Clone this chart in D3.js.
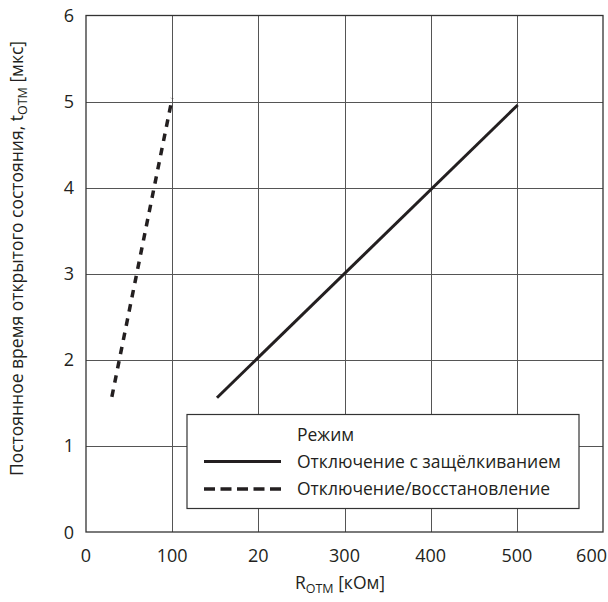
<!DOCTYPE html>
<html>
<head>
<meta charset="utf-8">
<script src="https://cdn.jsdelivr.net/npm/d3@7"></script>
<style>
  body { margin: 0; background: #fff; }
  svg text { font-family: "Open Sans", sans-serif; fill: #231f20; }
</style>
</head>
<body>
<div id="chart"></div>
<script>
// Data
const xTicks = [0, 100, 200, 300, 400, 500, 600];
const xTickLabels = ["0", "100", "20", "300", "400", "500", "600"]; // "20" as printed in the original
const yTicks = [0, 1, 2, 3, 4, 5, 6];
const latchR = [152, 501];
const latchT = [1.56, 4.96];
const restoreR = [30, 100];
const restoreT = [1.57, 5.04];
const legendTitle = "Режим";
const seriesNames = ["Отключение с защёлкиванием", "Отключение/восстановление"];

const width = 608;
const height = 602;
const marginTop = 15.5;
const marginRight = 5;
const marginBottom = 70;
const marginLeft = 86;

const svg = d3.create("svg")
    .attr("width", width)
    .attr("height", height);

const x = d3.scaleLinear()
    .domain([0, 600])
    .range([marginLeft, width - marginRight]);

const y = d3.scaleLinear()
    .domain([0, 6])
    .range([height - marginBottom, marginTop]);

// grid
svg.append("g")
    .selectAll("line")
    .data(xTicks.slice(1, -1))
    .join("line")
    .attr("x1", d => Math.round(x(d)) + 0.5)
    .attr("x2", d => Math.round(x(d)) + 0.5)
    .attr("y1", y(0))
    .attr("y2", y(6))
    .attr("stroke", "#555")
    .attr("stroke-width", 1);

svg.append("g")
    .selectAll("line")
    .data(yTicks.slice(1, -1))
    .join("line")
    .attr("x1", x(0))
    .attr("x2", x(600))
    .attr("y1", d => Math.round(y(d)) + 0.5)
    .attr("y2", d => Math.round(y(d)) + 0.5)
    .attr("stroke", "#555")
    .attr("stroke-width", 1);

// frame
svg.append("rect")
    .attr("x", x(0))
    .attr("y", y(6))
    .attr("width", x(600) - x(0))
    .attr("height", y(0) - y(6))
    .attr("fill", "none")
    .attr("stroke", "#333")
    .attr("stroke-width", 1.3);

// tick labels (last one kept inside the window)
svg.append("g")
    .selectAll("text")
    .data(xTicks)
    .join("text")
    .attr("x", (d, i) => i === xTicks.length - 1 ? width - 1 : x(d))
    .attr("y", y(0) + 30)
    .attr("text-anchor", (d, i) => i === xTicks.length - 1 ? "end" : "middle")
    .attr("font-size", 18)
    .text((d, i) => xTickLabels[i]);

svg.append("g")
    .selectAll("text")
    .data(yTicks)
    .join("text")
    .attr("x", x(0) - 12)
    .attr("y", d => y(d) + 6.5)
    .attr("text-anchor", "end")
    .attr("font-size", 18)
    .text(d => d);

// lines
const line = d3.line()
    .x(d => x(d[0]))
    .y(d => y(d[1]));

svg.append("path")
    .attr("d", line(d3.zip(latchR, latchT)))
    .attr("fill", "none")
    .attr("stroke", "#231f20")
    .attr("stroke-width", 3);

svg.append("path")
    .attr("d", line(d3.zip(restoreR, restoreT)))
    .attr("fill", "none")
    .attr("stroke", "#231f20")
    .attr("stroke-width", 3.5)
    .attr("stroke-dasharray", "7.5,7");

// legend
const lx = 187, ly = 414.5, lw = 392, lh = 94;
const legend = svg.append("g");
legend.append("rect")
    .attr("x", lx)
    .attr("y", ly)
    .attr("width", lw)
    .attr("height", lh)
    .attr("fill", "#fff")
    .attr("stroke", "#333")
    .attr("stroke-width", 1.2);

legend.append("text")
    .attr("x", 297)
    .attr("y", 441)
    .attr("font-size", 17.5)
    .text(legendTitle);

seriesNames.forEach((name, i) => {
    const yy = 461.5 + i * 27.5;
    legend.append("line")
        .attr("x1", 204)
        .attr("x2", 281)
        .attr("y1", yy)
        .attr("y2", yy)
        .attr("stroke", "#231f20")
        .attr("stroke-width", i === 0 ? 3 : 3.5)
        .attr("stroke-dasharray", i === 0 ? null : "11,5.5");
    legend.append("text")
        .attr("x", 297)
        .attr("y", yy + 6)
        .attr("font-size", 17.5)
        .text(name);
});

// axis titles
const xt = svg.append("text")
    .attr("x", 340)
    .attr("y", 589)
    .attr("text-anchor", "middle")
    .attr("font-size", 17.5);
xt.append("tspan").text("R");
xt.append("tspan").attr("font-size", 12.5).attr("dy", 3.5).text("OTM");
xt.append("tspan").attr("dy", -3.5).text(" [кОм]");

const yt = svg.append("text")
    .attr("transform", "translate(23,258.5) rotate(-90)")
    .attr("text-anchor", "middle")
    .attr("font-size", 17.5);
yt.append("tspan").text("Постоянное время открытого состояния, t");
yt.append("tspan").attr("font-size", 12.5).attr("dy", 3.5).text("OTM");
yt.append("tspan").attr("dy", -3.5).text(" [мкс]");

document.getElementById("chart").append(svg.node());
</script>
</body>
</html>
